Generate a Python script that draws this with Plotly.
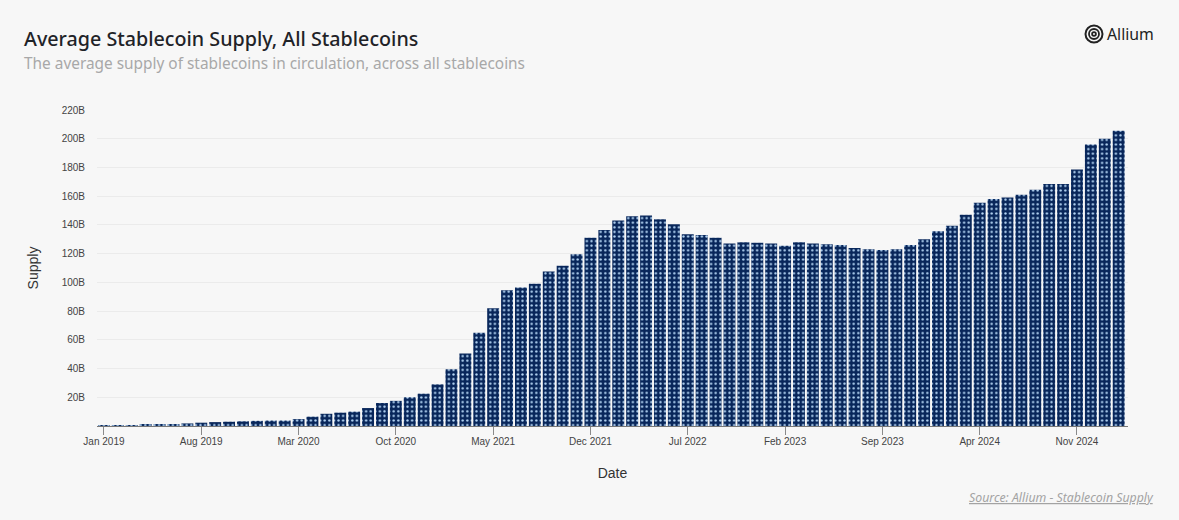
import plotly.graph_objects as go

months = ["Jan","Feb","Mar","Apr","May","Jun","Jul","Aug","Sep","Oct","Nov","Dec"]
dates = [f"{m} {y}" for y in range(2019, 2025) for m in months] + ["Jan 2025", "Feb 2025"]
supply = [0.3,0.4,0.5,0.7,1.0,1.3,1.8,2.3,2.7,3.0,3.3,3.6,
          3.8,3.8,4.8,6.5,8.5,9.3,10,12.5,16,17.5,20,22.5,
          29,39.5,50.5,65,82,94.5,96.5,99,107.5,111.5,119.5,131,
          136.5,143,146,146.5,144,140.5,133.5,133,131,127,128,127.5,
          127,125.5,128,127,126.5,126,124,123,122.5,123,126,130,
          135.5,139.5,147,155.5,158,159,161,164.5,168.5,168.5,178.5,196,
          200,205.5]
x_ticks = ["Jan 2019","Aug 2019","Mar 2020","Oct 2020","May 2021","Dec 2021","Jul 2022",
           "Feb 2023","Sep 2023","Apr 2024","Nov 2024"]
y_ticks = list(range(0, 221, 20))
y_labels = [""] + [f"{v}B" for v in y_ticks[1:]]

BG = "#f7f7f7"
FONT = "Liberation Sans, Arial, sans-serif"
HEAD = "Noto Sans, Open Sans, sans-serif"
L, R, T, B = 97, 51, 110, 94
PW, PH = 1179 - L - R, 520 - T - B

fig = go.Figure(go.Bar(
    x=dates, y=supply, width=0.86,
    marker=dict(color="#08265a", line=dict(width=0),
                pattern=dict(shape=".", size=4.6, solidity=0.2,
                             bgcolor="#08265a", fgcolor="#b5d6f5", fillmode="replace")),
))

fig.update_layout(
    width=1179, height=520, autosize=False, bargap=0.14,
    paper_bgcolor=BG, plot_bgcolor=BG, showlegend=False,
    margin=dict(l=L, r=R, t=T, b=B),
    font=dict(family=FONT, color="#333333"),
    xaxis=dict(type="category", categoryorder="array", categoryarray=dates,
               range=[-0.5, 73.67], tickmode="array", tickvals=x_ticks, ticktext=x_ticks,
               ticks="outside", ticklen=8, tickcolor="#8a8a8a", tickwidth=1,
               ticklabelstandoff=-2,
               showgrid=False, showline=True, linecolor="#777777", linewidth=1,
               tickfont=dict(size=10, color="#444444"),
               title=dict(text="Date", font=dict(size=14, color="#333333"), standoff=22)),
    yaxis=dict(range=[0, 220], tickmode="array", tickvals=y_ticks, ticktext=y_labels,
               showgrid=True, gridcolor="#ebebeb", gridwidth=1, zeroline=False,
               ticks="", ticklabelstandoff=11, tickfont=dict(size=10, color="#444444"),
               title=dict(text="Supply", font=dict(size=14, color="#333333"), standoff=19)),
    annotations=[
        dict(text="Average Stablecoin Supply, All Stablecoins", xref="paper", yref="paper",
             x=(24 - L) / PW - 0.002, y=(520 - B - 39) / PH, xanchor="left", yanchor="middle", showarrow=False,
             font=dict(family=HEAD, size=19.7, color="#1f2328", weight=500)),
        dict(text="The average supply of stablecoins in circulation, across all stablecoins",
             xref="paper", yref="paper", x=(24 - L) / PW - 0.002, y=(520 - B - 64) / PH,
             xanchor="left", yanchor="middle",
             showarrow=False, font=dict(family=HEAD, size=15.4, color="#a8a8a8")),
        dict(text="Allium", xref="paper", yref="paper", x=(1156 - L) / PW, y=(520 - B - 34) / PH,
             xanchor="right", yanchor="middle", showarrow=False,
             font=dict(family=HEAD, size=15.8, color="#222222")),
        dict(text="<i><u>Source: Allium - Stablecoin Supply</u></i>", xref="paper", yref="paper",
             x=(1156 - L) / PW, y=(520 - B - 498) / PH, xanchor="right", yanchor="middle", showarrow=False,
             font=dict(family=HEAD, size=12.3, color="#a3a3a3")),
    ],
)

# Logo: concentric rings, placed by pixels relative to the plot area
for r, lw in ((8.5, 2.0), (5.0, 1.8), (1.9, 1.8)):
    cx, cy = 1094, 34
    fig.add_shape(type="circle", xref="paper", yref="paper",
                  x0=(cx - r - L) / PW, x1=(cx + r - L) / PW,
                  y0=(520 - B - cy - r) / PH, y1=(520 - B - cy + r) / PH,
                  line=dict(color="#222222", width=lw))

fig.write_html("out.html", config=dict(displayModeBar=False),
               post_script=f"document.body.style.margin='0';document.body.style.background='{BG}';")
